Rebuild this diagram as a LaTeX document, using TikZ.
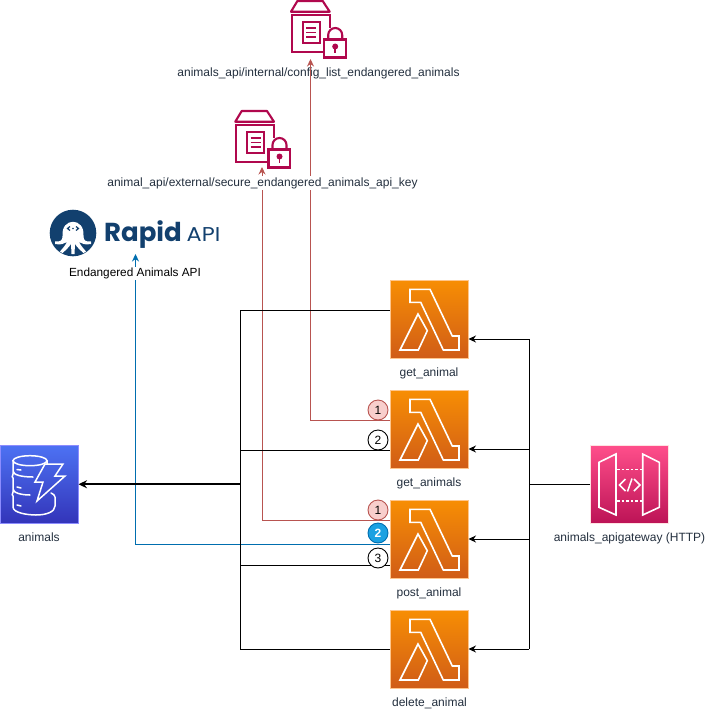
\documentclass[tikz,border=0pt]{standalone}
\usepackage{fontspec}
\setmainfont{Liberation Sans}
\newfontfamily\rapidfont{Poppins}
\usetikzlibrary{arrows.meta,calc}
\definecolor{secretc}{HTML}{B0084D}
\definecolor{rapidc}{HTML}{12406E}
\definecolor{redl}{HTML}{B85450}
\definecolor{bluel}{HTML}{006EAF}
\definecolor{awstext}{HTML}{232F3E}
\tikzset{
  svc/.style={rectangle,draw=white!55!#1,line width=.6pt,minimum width=78.5pt,minimum height=78.5pt,inner sep=0,outer sep=0,anchor=north west},
  lambdabox/.style={svc=orange,top color={rgb,255:red,247;green,142;blue,4},bottom color={rgb,255:red,208;green,92;blue,23}},
  gatebox/.style={svc=pink,top color={rgb,255:red,255;green,79;blue,139},bottom color={rgb,255:red,188;green,19;blue,86}},
  dynbox/.style={svc=blue,top color={rgb,255:red,77;green,114;blue,243},bottom color={rgb,255:red,51;green,52;blue,185}},
  lab/.style={font=\fontsize{12}{14}\selectfont,text=awstext,inner sep=0},
  labw/.style={lab,fill=white,inner xsep=0,inner ysep=1pt},
  blk/.style={draw=black,line width=1pt},
  blka/.style={blk,-{Stealth[length=7.5pt,width=7pt]}},
  redw/.style={draw=redl,line width=1pt,-{Stealth[length=7.5pt,width=7pt]}},
  bluew/.style={draw=bluel,line width=1pt,-{Stealth[length=7.5pt,width=7pt]}},
  numc/.style={circle,minimum size=20pt,inner sep=0,line width=.9pt,font=\fontsize{12}{14}\selectfont},
  lambdaicon/.pic={
    \draw[white,line width=1.6pt,line join=miter]
      (20,9.3)--(40,9.3)--(62.3,56)--(69,56)--(69,70)--(53.3,70)--(30.7,22.3)--(20,22.3)--cycle
      (28,34)--(10,70)--(28.3,70)--(37.3,50.7)--cycle;
  },
  gateicon/.pic={
    \draw[white,line width=1.6pt]
      (9,17.3)--(26,9)--(26,70)--(9,62.3)--cycle
      (52.7,9)--(69.3,17.3)--(69.3,62.3)--(52.7,70)--cycle;
    \draw[white,line width=1.6pt,dash pattern=on 2.6pt off 2pt]
      (27,24.3)--(52,24.3) (27,55.7)--(52,55.7);
    \draw[white,line width=1.5pt]
      (35.5,34)--(29.5,40)--(35.5,46) (37.5,46.5)--(42,33.5) (44,34)--(50,40)--(44,46);
  },
  dynicon/.pic={
    \draw[white,line width=1.5pt]
      (30,15.7) ellipse (17 and 5);
    \draw[white,line width=1.5pt,line cap=round]
      (13,15.7)--(13,26) .. controls (13,30) and (22,32) .. (33,32)
      (13,26)--(13,29) .. controls (11,31) and (13,33) .. (13,33)--(13,44) .. controls (13,48) and (22,50) .. (30,50)
      (13,44)--(13,47) .. controls (11,49) and (13,51) .. (13,51)--(13,62) .. controls (13,68) and (28,70) .. (36,70) .. controls (46,70) and (55,67) .. (55,61)--(55,52)
      (47,15.7)--(47,19) (55,52) .. controls (55,50) and (53,49) .. (51,48);
    \draw[white,line width=1.5pt,line cap=round]
      (17,24.5)--(21,25) (17,42)--(21,43) (17,60)--(21,61);
    \draw[white,line width=1.5pt,line join=miter]
      (45,19)--(63,19)--(55,31)--(65,31)--(37,56)--(43,37)--(35,37)--cycle;
  },
  secreticon/.pic={
    \draw[secretc,line width=2.1pt,line join=round]
      (0.3,11.7)--(39,11.7)--(32,1)--(6.7,1)--cycle;
    \draw[secretc,line width=2.1pt]
      (39,28)--(39,15)--(1,15)--(1,52)--(32,52);
    \draw[secretc,line width=2.1pt] (12,22) rectangle (29,43);
    \draw[secretc,line width=1.8pt] (15.5,28)--(25.5,28) (15.5,32.5)--(25.5,32.5) (15.5,37)--(25.5,37);
    \draw[secretc,line width=2.1pt] (33.5,39.5) rectangle (55,57.5);
    \draw[secretc,line width=2.1pt] (37.5,39.5)--(37.5,35) arc[start angle=180,end angle=0,x radius=7,y radius=-7]--(51.5,39.5);
    \fill[secretc] (44.5,46.5) circle (3);
    \draw[secretc,line width=1.8pt] (44.5,47)--(44.5,53);
  },
  rapidlogo/.pic={
    \fill[rapidc] (0,0) circle (23.3);
    \fill[white] (-10.5,3) .. controls (-12,-16) and (12,-16) .. (10.5,3)
      .. controls (10.5,7) and (12,9) .. (18,8.5) -- (18,11) .. controls (12,12) and (9,11) .. (6,9)
      .. controls (8,13) and (11,16) .. (13,18.5) -- (10.5,20) .. controls (7,17) and (4,14) .. (2,11)
      -- (1.5,21) -- (-1.5,21) -- (-2,11)
      .. controls (-4,14) and (-7,17) .. (-10.5,20) -- (-13,18.5) .. controls (-11,16) and (-8,13) .. (-6,9)
      .. controls (-9,11) and (-12,12) .. (-18,11) -- (-18,8.5) .. controls (-12,9) and (-10.5,7) .. (-10.5,3) -- cycle;
    \draw[rapidc,line width=1.2pt] (-3,-6.5)--(-5.5,-4.5)--(-3,-2.5) (3,-6.5)--(5.5,-4.5)--(3,-2.5);
    \fill[rapidc] (0,-4.5) circle (.8);
  }
}
\begin{document}
\begin{tikzpicture}[x=1pt,y=-1pt]
\useasboundingbox (0,0) rectangle (705,710);
% service boxes
\node[lambdabox] (getanimal) at (390,280) {};
\node[lambdabox] (getanimals) at (390,390) {};
\node[lambdabox] (postanimal) at (390,500) {};
\node[lambdabox] (deleteanimal) at (390,610) {};
\node[gatebox] (gateway) at (590,445) {};
\node[dynbox] (animalsdb) at (0,445) {};
\pic at (390,280) {lambdaicon};
\pic at (390,390) {lambdaicon};
\pic at (390,500) {lambdaicon};
\pic at (390,610) {lambdaicon};
\pic at (590,445) {gateicon};
\pic at (0,445) {dynicon};
% secrets
\pic at (290.7,0) {secreticon};
\pic at (235,110) {secreticon};
\coordinate (secretA) at (310.5,59);
\coordinate (secretB) at (262,167);
% logo
\pic at (73,233) {rapidlogo};
\node[anchor=base west,inner sep=0,text=rapidc] (rapidname) at (104,241.5) {\rapidfont\fontsize{26}{28}\selectfont\bfseries Rapid};
\node[anchor=base west,inner sep=0,text=rapidc,xscale=1.12] (rapidapi) at (186.5,241.5) {\rapidfont\fontsize{20}{22}\selectfont API};
\coordinate (rapidend) at (135.5,254);
% bus coordinates
\coordinate (busL) at (240.5,484.25);
\coordinate (busT) at (240.5,310);
\coordinate (busB) at (240.5,649);
\coordinate (busRT) at (529,339);
\coordinate (busRB) at (529,649);
% label under the red line
\node[lab] (lconfig) at (318.5,73) {animals\_api/internal/config\_list\_endangered\_animals};
% red and blue connectors
\path (390,420) coordinate (ra1) (390,520) coordinate (ra2) (390,544) coordinate (ba1);
\draw[redw] (ra1) -- (310.5,420) -- (secretA);
\draw[redw] (ra2) -- (262,520) -- (secretB);
\draw[bluew] (ba1) -- (135.5,544) -- (rapidend);
% black connectors
\draw[blk] (busT) -- (390,310);
\draw[blk] (busT) -- (busB) -- (390,649);
\draw[blk] (240.5,450.5) -- (390,450.5);
\draw[blk] (240.5,565.5) -- (390,565.5);
\draw[blk,line width=1.6pt,-{Stealth[length=8.5pt,width=8pt]}] (busL) -- (animalsdb.east);
\draw[blk] (gateway.west) -- (gateway.west -| busRT);
\draw[blk] (busRT) -- (busRB);
\draw[blka] (busRT) -- (getanimal.east |- busRT);
\draw[blka] (529,449) -- (getanimals.east |- 0,449);
\draw[blka] (529,539) -- (postanimal.east |- 0,539);
\draw[blka] (busRB) -- (deleteanimal.east |- busRB);
% numbered circles
\node[numc,draw=redl,fill={rgb,255:red,248;green,206;blue,204}] (n1a) at (378,410) {1};
\node[numc,draw=black,fill=white] (n2a) at (378,440) {2};
\node[numc,draw=redl,fill={rgb,255:red,248;green,206;blue,204}] (n1b) at (378,510) {1};
\node[numc,draw=bluel,fill={rgb,255:red,27;green,161;blue,226},text=white,font=\fontsize{12}{14}\selectfont\bfseries] (n2b) at (378,533) {2};
\node[numc,draw=black,fill=white] (n3b) at (378,558) {3};
% labels
\node[labw] (lsecure) at (262.5,183) {animal\_api/external/secure\_endangered\_animals\_api\_key};
\node[labw,text=black,font=\fontsize{11.8}{14}\selectfont] (lrapid) at (135,273) {Endangered Animals API};
\node[lab] (l1) at (429,373) {get\_animal};
\node[lab] (l2) at (429,483) {get\_animals};
\node[lab] (l3) at (429,593) {post\_animal};
\node[lab] (l4) at (429.5,703) {delete\_animal};
\node[lab] (l5) at (629.5,538) {animals\_apigateway (HTTP)};
\node[lab] (l6) at (39,537) {animals};
\end{tikzpicture}
\end{document}
